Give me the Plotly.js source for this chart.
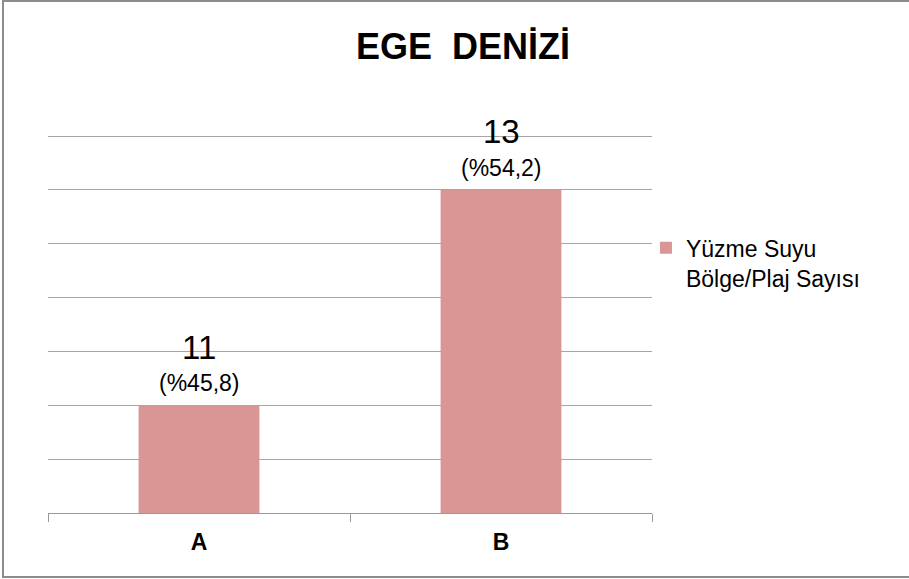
<!DOCTYPE html>
<html>
<head>
<meta charset="utf-8">
<script src="https://cdn.plot.ly/plotly-3.0.1.min.js"></script>
<style>
  html, body { margin: 0; padding: 0; background: #fff; }
  #wrap { position: relative; width: 909px; height: 579px; overflow: hidden; }
  #chart { width: 909px; height: 579px; }
  #frame { position: absolute; left: 2px; top: 0px; width: 930px; height: 578px;
           border: 2px solid #8c8c8c; box-sizing: border-box; pointer-events: none; }
</style>
</head>
<body>
<div id="wrap">
  <div id="chart"></div>
  <div id="frame"></div>
</div>
<script>
const categories = ["A", "B"];
const values = [11, 13];
const percents = ["(%45,8)", "(%54,2)"];
const seriesName = "Yüzme Suyu<br>Bölge/Plaj Sayısı";
const chartTitle = "EGE  DENİZİ";

const FONT = "Liberation Sans, Arial, sans-serif";

const trace = {
  type: "bar",
  x: categories,
  y: values,
  name: seriesName,
  marker: { color: "#D99694" },
  hoverinfo: "skip",
  showlegend: true
};

const annotations = [];
categories.forEach((c, i) => {
  annotations.push({
    x: c, y: values[i], xref: "x", yref: "y",
    text: String(values[i]), showarrow: false,
    yanchor: "middle", yshift: 58,
    font: { family: FONT, size: 33, color: "#000" }
  });
  annotations.push({
    x: c, y: values[i], xref: "x", yref: "y",
    text: percents[i], showarrow: false,
    yanchor: "middle", yshift: 22,
    font: { family: FONT, size: 23, color: "#000" }
  });
});

const layout = {
  width: 909, height: 579,
  margin: { l: 48, r: 257, t: 134, b: 66 },
  paper_bgcolor: "#fff", plot_bgcolor: "#fff",
  title: {
    text: "<b>" + chartTitle + "</b>",
    x: 463 / 909, xref: "container", xanchor: "center",
    y: 1 - 46 / 579, yref: "container", yanchor: "middle",
    font: { family: FONT, size: 36, color: "#000" }
  },
  bargap: 0.6,
  xaxis: {
    type: "category",
    tickson: "boundaries",
    ticks: "outside", ticklen: 8, tickcolor: "#999", tickwidth: 1,
    showline: true, linecolor: "#999", linewidth: 1,
    showgrid: false,
    tickfont: { family: FONT, size: 23, color: "#000", weight: "bold" },
    ticklabelstandoff: 8,
    fixedrange: true
  },
  yaxis: {
    range: [10, 13.52],
    dtick: 0.5,
    showticklabels: false,
    showgrid: true, gridcolor: "#a6a6a6", gridwidth: 1,
    zeroline: false, showline: false, ticks: "",
    fixedrange: true
  },
  legend: {
    x: 0.99, xanchor: "left",
    y: 0.66, yanchor: "middle",
    valign: "top",
    font: { family: FONT, size: 23, color: "#000" },
    itemwidth: 30,
    bgcolor: "rgba(0,0,0,0)"
  },
  annotations: annotations
};

Plotly.newPlot("chart", [trace], layout, { displayModeBar: false, staticPlot: true });
</script>
</body>
</html>
